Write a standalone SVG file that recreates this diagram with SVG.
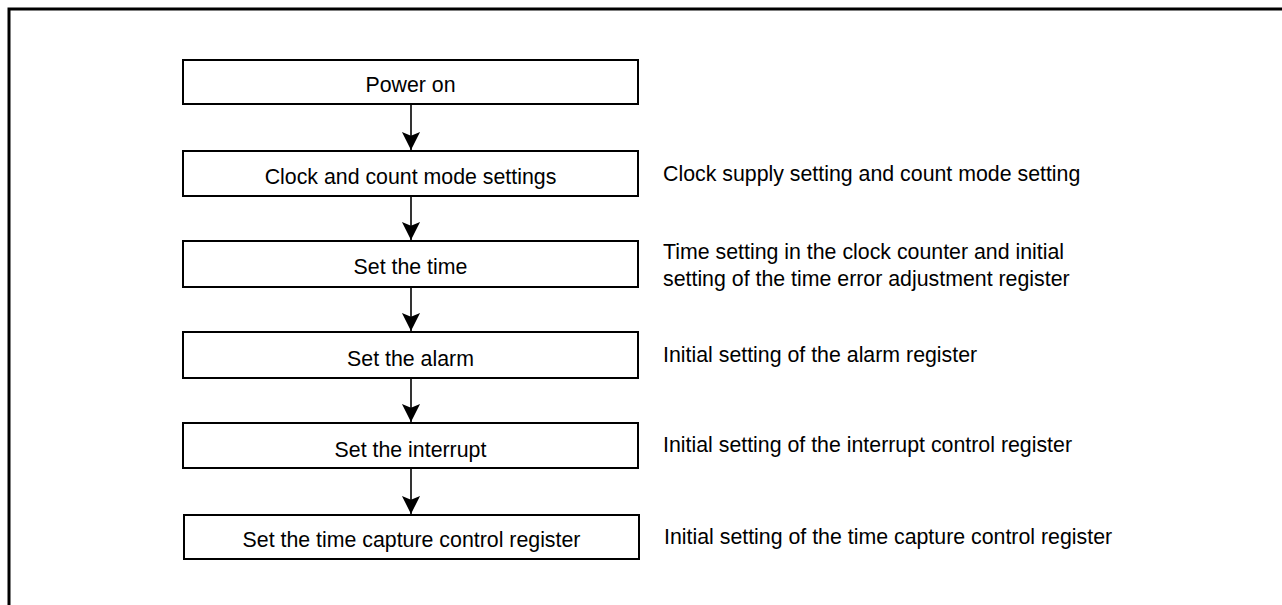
<svg xmlns="http://www.w3.org/2000/svg" width="1282" height="605" viewBox="0 0 1282 605">
<style>
.box{fill:#fff;stroke:#000;stroke-width:2}
.t{font-family:"Liberation Sans",Arial,sans-serif;font-size:21.33px;fill:#000}
.c{text-anchor:middle}
.ln{stroke:#000;stroke-width:1.6;fill:none}
</style>
<defs>
<marker id="ah" markerUnits="userSpaceOnUse" markerWidth="20" markerHeight="20" viewBox="-10 -20 20 21" refX="0" refY="0" orient="auto-start-reverse" overflow="visible">
<path d="M0,0 L-9.5,-19 L0,-15 L9.5,-19 Z" fill="#000" transform="rotate(-90)"/>
</marker>
</defs>
<rect width="1282" height="605" fill="#fff"/>
<path d="M9,605 V9 H1282" fill="none" stroke="#000" stroke-width="3"/>
<g id="connectors">
<path class="ln" d="M411,104 V150" marker-end="url(#ah)"/>
<path class="ln" d="M411,196 V240" marker-end="url(#ah)"/>
<path class="ln" d="M411,287 V331" marker-end="url(#ah)"/>
<path class="ln" d="M411,378 V422" marker-end="url(#ah)"/>
<path class="ln" d="M411,468 V514" marker-end="url(#ah)"/>
</g>
<g id="n1"><rect class="box" x="183" y="60" width="455" height="44"/><text class="t c" x="410.5" y="92">Power on</text></g>
<g id="n2"><rect class="box" x="183" y="151" width="455" height="45"/><text class="t c" x="410.5" y="184">Clock and count mode settings</text><text class="t" x="663" y="181">Clock supply setting and count mode setting</text></g>
<g id="n3"><rect class="box" x="183" y="241" width="455" height="46"/><text class="t c" x="410.5" y="274">Set the time</text><text class="t" x="663" y="259">Time setting in the clock counter and initial</text><text class="t" x="663" y="285.5">setting of the time error adjustment register</text></g>
<g id="n4"><rect class="box" x="183" y="332" width="455" height="46"/><text class="t c" x="410.5" y="365.5">Set the alarm</text><text class="t" x="663" y="362">Initial setting of the alarm register</text></g>
<g id="n5"><rect class="box" x="183" y="423" width="455" height="45"/><text class="t c" x="410.5" y="457">Set the interrupt</text><text class="t" x="663" y="452">Initial setting of the interrupt control register</text></g>
<g id="n6"><rect class="box" x="184" y="515" width="455" height="44"/><text class="t c" x="411.5" y="547">Set the time capture control register</text><text class="t" x="664" y="544">Initial setting of the time capture control register</text></g>
</svg>
